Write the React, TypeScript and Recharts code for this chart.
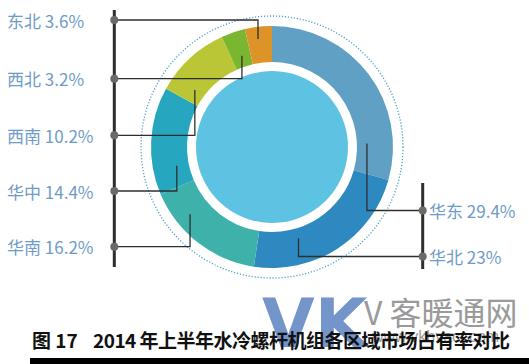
import React from 'react';
import { PieChart, Pie, Cell } from 'recharts';

// ---- data ----
const regions = ['华东', '华北', '华南', '华中', '西南', '西北', '东北'];
const shares = [29.4, 23, 16.2, 14.4, 10.2, 3.2, 3.6];
const labelTexts = ['华东 29.4%', '华北 23%', '华南 16.2%', '华中 14.4%', '西南 10.2%', '西北 3.2%', '东北 3.6%'];
const colors = ['#5FA0C4', '#2F89C1', '#3EB1AA', '#27A6C0', '#BAC636', '#7AB630', '#DD9327'];

// ---- layout (annotation placement) ----
const leaderFrac = [0.83, 0.7, 0.72, 0.23, 0.21, 0.54, 0.43];
const leaderRadius = [95, 95, 106, 97, 96, 96, 109];
const labelY = [210.5, 256.5, 246.7, 191, 135.3, 78.7, 20];
const labelSide = ['right', 'right', 'left', 'left', 'left', 'left', 'left'];

const titleFigure = '图 17';
const titleText = '2014 年上半年水冷螺杆机组各区域市场占有率对比';

const data = regions.map((r, i) => ({ name: r, value: shares[i] }));
const innerData = [{ name: 'inner', value: 1 }];

const CX = 272;
const CY = 147;
const LEFT_BAR_X = 114.3;
const RIGHT_BAR_X = 422.7;
const RAD = Math.PI / 180;

const renderLabel = (props: any) => {
  const { cx, cy, startAngle, endAngle, index } = props;
  const a = startAngle + leaderFrac[index] * (endAngle - startAngle);
  const r = leaderRadius[index];
  const ax = cx + r * Math.cos(a * RAD);
  const ay = cy - r * Math.sin(a * RAD);
  const ly = labelY[index];
  const left = labelSide[index] === 'left';
  const bx = left ? LEFT_BAR_X : RIGHT_BAR_X;
  const tx = left ? 7 : 429;
  return (
    <g key={`lab-${index}`}>
      <path d={`M${ax},${ay}V${ly}H${bx}`} stroke="#2f2f2f" strokeWidth={1.3} fill="none" />
      <circle cx={bx} cy={ly} r={4} fill="#6a6a6a" />
      <text
        x={tx}
        y={ly}
        dominantBaseline="central"
        textAnchor="start"
        fill="#6E9BC7"
        fontSize={17}
        fontFamily="'Noto Sans CJK SC', 'Noto Sans', sans-serif"
      >
        {labelTexts[index]}
      </text>
    </g>
  );
};

export default function App() {
  return (
    <div style={{ position: 'absolute', left: 0, top: 0, width: 529, height: 364, background: '#fff' }}>
      <PieChart width={529} height={364} margin={{ top: 0, right: 0, bottom: 0, left: 0 }}>
        <circle cx={CX} cy={CY} r={131} fill="none" stroke="#4F9FCB" strokeWidth={1.3} strokeDasharray="1.2 1.8" />
        <rect x={LEFT_BAR_X - 1.5} y={10} width={3} height={257} fill="#2f2f2f" />
        <rect x={RIGHT_BAR_X - 1.5} y={183} width={3} height={86} fill="#2f2f2f" />
        <Pie
          data={innerData}
          dataKey="value"
          cx={CX}
          cy={CY}
          innerRadius={0}
          outerRadius={76}
          fill="#5EC3E3"
          stroke="none"
          isAnimationActive={false}
        />
        <Pie
          data={data}
          dataKey="value"
          cx={CX}
          cy={CY}
          innerRadius={85}
          outerRadius={121}
          startAngle={90}
          endAngle={-270}
          stroke="none"
          label={renderLabel}
          labelLine={false}
          isAnimationActive={false}
        >
          {data.map((d, i) => (
            <Cell key={d.name} fill={colors[i]} />
          ))}
        </Pie>
        <text x={262} y={347} fontSize={68} fontWeight={700} fill="#6D90C7" fontFamily="'DejaVu Sans', sans-serif" opacity={0.95}>VK</text>
        <text x={364} y={325} fontSize={32} fill="#9a9a9a" fontFamily="'Noto Sans CJK SC', serif">V 客暖通网</text>
        <text x={372} y={342} fontSize={16} fill="#9a9a9a" fontFamily="'Liberation Sans', sans-serif">www.vkhvacr.com</text>
        <text
          x={32}
          y={339}
          dominantBaseline="central"
          fontSize={19}
          fontWeight={700}
          fill="#111"
          fontFamily="'Noto Sans CJK SC', sans-serif"
        >
          {titleFigure}
        </text>
        <text
          x={93}
          y={339}
          dominantBaseline="central"
          fontSize={19}
          fontWeight={700}
          fill="#111"
          fontFamily="'Noto Sans CJK SC', sans-serif"
          textLength={417}
          lengthAdjust="spacing"
        >
          {titleText}
        </text>
        <rect x={30} y={358} width={499} height={6} fill="#000" />
      </PieChart>
    </div>
  );
}
